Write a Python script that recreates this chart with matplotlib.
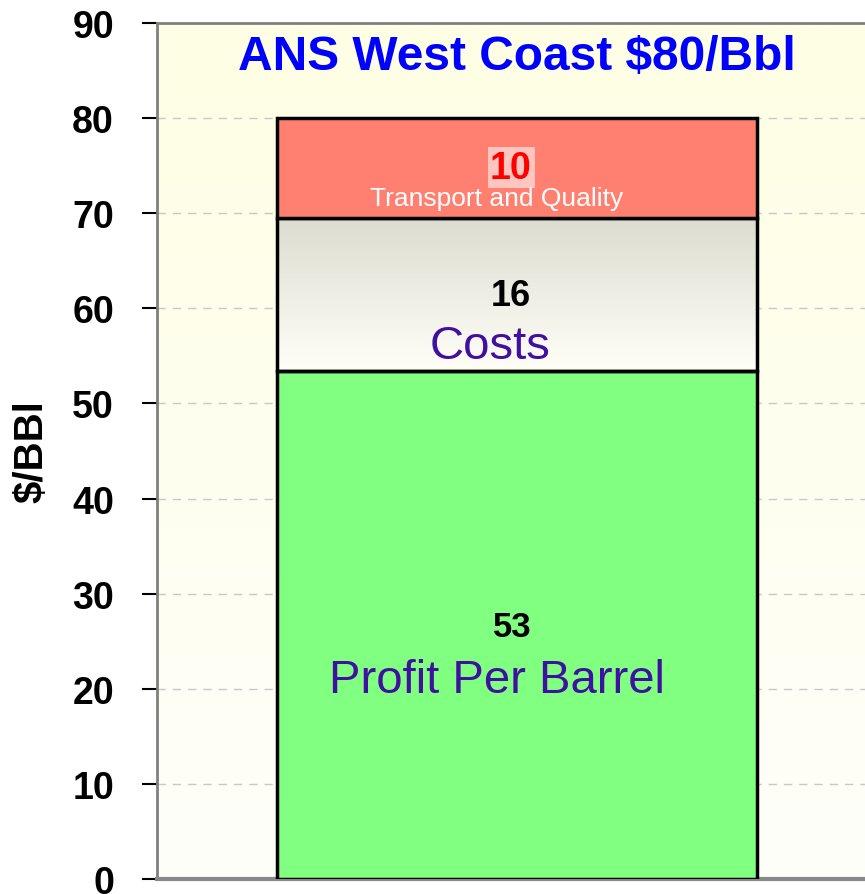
import numpy as np
import matplotlib
matplotlib.use('Agg')
import matplotlib.pyplot as plt
from matplotlib.colors import LinearSegmentedColormap

# data
segments = ['Profit Per Barrel', 'Costs', 'Transport and Quality']
values = [53.4, 16.1, 10.5]
value_labels = ['53', '16', '10']
yticks = [0, 10, 20, 30, 40, 50, 60, 70, 80, 90]

plt.rcParams['font.family'] = ['Liberation Sans', 'DejaVu Sans']

fig = plt.figure(figsize=(8.65, 8.95), dpi=100)
ax = fig.add_axes([157/865, 1-880/895, 1-157/865, (880-24)/895])
ax.set_xlim(-0.75, 0.725)
ax.set_ylim(0, 90)

# background: light yellow at top, fading to near white
bg = LinearSegmentedColormap.from_list('bg', ['#FEFEFA', '#FFFFE4'])
ax.imshow(np.linspace(0, 1, 256).reshape(-1, 1), cmap=bg, aspect='auto',
          extent=[-0.75, 0.725, 0, 90], origin='lower', zorder=0)

ax.yaxis.grid(True, linestyle=(0, (6, 5)), color='#c8c8c8', linewidth=1, zorder=1)
ax.set_axisbelow(True)

bottoms = np.cumsum([0] + values[:-1])
faces = ['#80FF80', 'none', '#FF8070']
bars = ax.bar([0, 0, 0], values, bottom=bottoms, width=1.0, color=faces,
              edgecolor='black', linewidth=2.5, zorder=3)

# gradient fill for the costs block
grad = LinearSegmentedColormap.from_list('cost', ['#FFFFF8', '#DCDCD0'])
im = ax.imshow(np.linspace(0, 1, 256).reshape(-1, 1), cmap=grad, aspect='auto',
               extent=[-0.5, 0.5, bottoms[1], bottoms[1] + values[1]],
               origin='lower', zorder=2)
im.set_clip_path(bars[1])
ax.set_xlim(-0.75, 0.725)
ax.set_ylim(0, 90)

purple = '#4010A0'
ax.text((512-517)/480, 26.6, value_labels[0], ha='center', va='center',
        fontsize=25, fontweight='bold', color='black', zorder=5)
ax.text((497-517)/480, 20.9, segments[0], ha='center', va='center',
        fontsize=34, color=purple, zorder=5)
ax.text((511-517)/480, 61.4, value_labels[1], ha='center', va='center',
        fontsize=26, fontweight='bold', color='black', zorder=5)
ax.text((490-517)/480, 56.0, segments[1], ha='center', va='center',
        fontsize=34, color=purple, zorder=5)
ax.text((511-517)/480, 74.8, value_labels[2], ha='center', va='center',
        fontsize=27, fontweight='bold', color='#FF0000', zorder=5,
        bbox=dict(facecolor='white', alpha=0.55, edgecolor='none', pad=2))
ax.text((497-517)/480, 71.6, segments[2], ha='center', va='center',
        fontsize=19, color='white', zorder=5)

ax.text(0.0, 86.5, 'ANS West Coast $80/Bbl',
        ha='center', va='center', fontsize=34.5, fontweight='bold',
        color='#0000FF', zorder=5)

ax.set_yticks(yticks)
ax.set_yticklabels([str(t) for t in yticks], fontsize=27, fontweight='bold')
ax.tick_params(axis='y', direction='out', length=11, width=1.5, pad=20)
ax.set_xticks([])
ax.set_ylabel('$/BBl', fontsize=29, fontweight='bold')
ax.yaxis.set_label_coords((51-157)/708, 0.5)

for side in ['left', 'top']:
    ax.spines[side].set_color('#808080')
    ax.spines[side].set_linewidth(2)
ax.spines['bottom'].set_color('#888888')
ax.spines['bottom'].set_linewidth(3)
ax.spines['right'].set_visible(False)

fig.savefig('out.png', dpi=100)
